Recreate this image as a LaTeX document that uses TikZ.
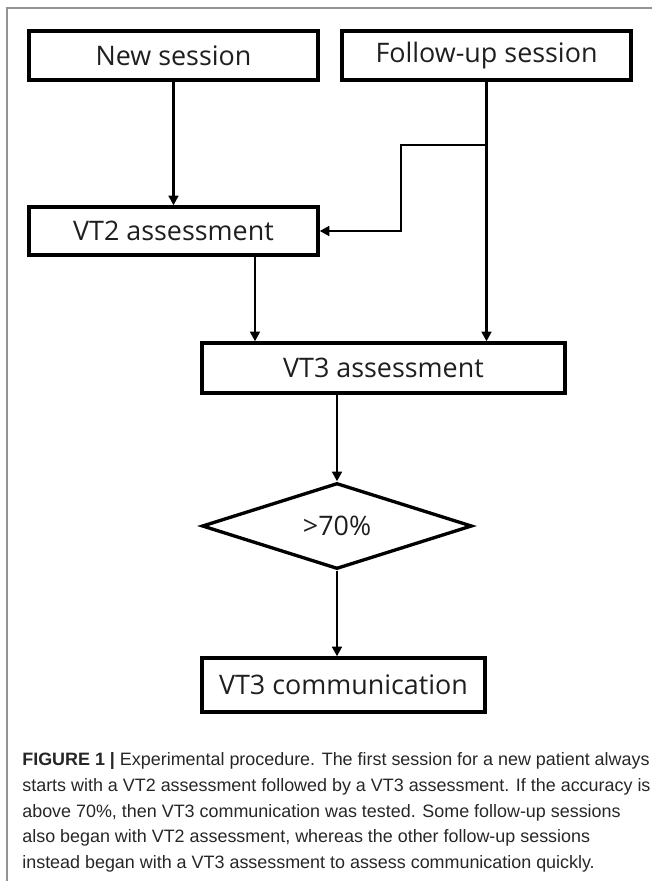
\documentclass[tikz,border=0pt]{standalone}
\usepackage{fontspec}
\setmainfont{Open Sans}
\newfontfamily\capfont{Liberation Sans}
\usetikzlibrary{shapes.geometric,arrows.meta}

\begin{document}
\begin{tikzpicture}[x=0.02cm, y=-0.02cm,
        box/.style={draw, line width=1.9pt, inner sep=0pt, text=black!88,
            font=\fontsize{15.3}{17}\selectfont},
        arr/.style={-{Triangle[length=5.5pt,width=5.5pt]}, line width=1.4pt},
        ln/.style={line width=1.4pt}]
        \useasboundingbox (0,0) rectangle (652,881);

        % frame
        \draw[gray!85, line width=0.9pt] (652,8) -- (7,8) -- (7,881);

        % session boxes
        \node[box, minimum width=5.78cm, minimum height=0.98cm] (new) at (173.5,55.5) {New session};
        \node[box, minimum width=5.78cm, minimum height=0.98cm] (follow) at (486.5,55.5) {Follow-up session};

        % assessments
        \node[box, minimum width=5.78cm, minimum height=0.96cm] (vt2) at (173.5,231) {VT2 assessment};
        \node[box, minimum width=7.26cm, minimum height=1.0cm] (vt3) at (383.5,368) {VT3 assessment};

        % decision
        \node[box, diamond, aspect=3.14, minimum width=5.4cm, minimum height=1.72cm] (check) at (337,526) {>70\%};

        % communication
        \node[box, minimum width=5.66cm, minimum height=1.08cm] (comm) at (343.5,685) {VT3 communication};

        % new session arrow
        \draw[arr] (new.south) -- (vt2.north);

        % follow-up arrows
        \coordinate (split) at (485,145);
        \coordinate (bend) at (401,145);
        \draw[arr] (follow.south) -- (follow.south |- vt3.north);
        \draw[arr] (split) -- (bend) -- (bend |- vt2.east) -- (vt2.east);

        % vt2 to vt3
        \draw[arr] ([xshift=1.63cm]vt2.south) -- ([xshift=1.63cm]vt2.south |- vt3.north);

        % vt3 to check to communication
        \draw[arr] (check.north |- vt3.south) -- (check.north);
        \draw[arr] (check.south) -- (check.south |- comm.north);

        % caption
        \node[anchor=north west, align=left, inner sep=0pt, text=black!85,
            font=\capfont\fontsize{10.2}{14.7}\selectfont] (caption) at (22,752)
            {\textbf{FIGURE 1 |} Experimental procedure. The first session for a new patient always\\
            starts with a VT2 assessment followed by a VT3 assessment. If the accuracy is\\
            above 70\%, then VT3 communication was tested. Some follow-up sessions\\
            also began with VT2 assessment, whereas the other follow-up sessions\\
            instead began with a VT3 assessment to assess communication quickly.};
    \end{tikzpicture}
\end{document}
